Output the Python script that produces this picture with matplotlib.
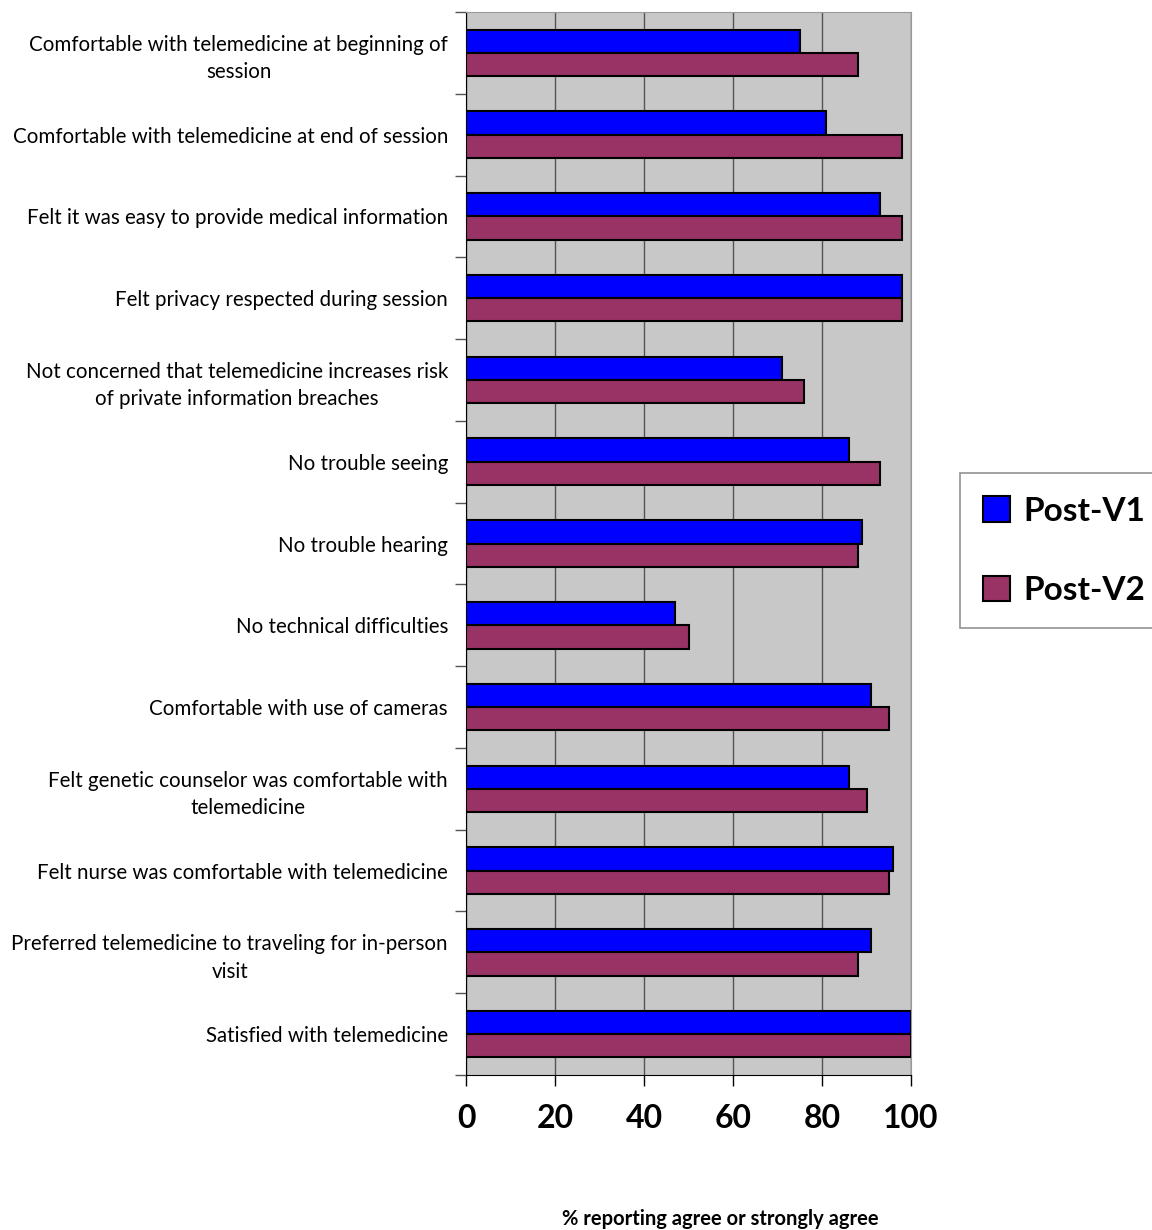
import numpy as np
from matplotlib import pyplot as plt

categories = [
    "Comfortable with telemedicine at beginning of\nsession",
    "Comfortable with telemedicine at end of session",
    "Felt it was easy to provide medical information",
    "Felt privacy respected during session",
    "Not concerned that telemedicine increases risk\nof private information breaches",
    "No trouble seeing",
    "No trouble hearing",
    "No technical difficulties",
    "Comfortable with use of cameras",
    "Felt genetic counselor was comfortable with\ntelemedicine",
    "Felt nurse was comfortable with telemedicine",
    "Preferred telemedicine to traveling for in-person\nvisit",
    "Satisfied with telemedicine",
]
post_v1 = [75, 81, 93, 98, 71, 86, 89, 47, 91, 86, 96, 91, 100]
post_v2 = [88, 98, 98, 98, 76, 93, 88, 50, 95, 90, 95, 88, 100]
xticks = [0, 20, 40, 60, 80, 100]

plt.rcParams['font.family'] = ['Lato', 'DejaVu Sans']

fig = plt.figure(figsize=(11.52, 12.30), dpi=100)
ax = fig.add_axes([466 / 1152, 1 - 1075 / 1230, 445 / 1152, 1063 / 1230])
ax.set_facecolor('#c8c8c8')

n = len(categories)
y = np.arange(n)
h = 0.285
ax.barh(y - h / 2, post_v1, height=h, color='#0000ff', edgecolor='black',
        linewidth=1.5, label='Post-V1', zorder=3)
ax.barh(y + h / 2, post_v2, height=h, color='#993366', edgecolor='black',
        linewidth=1.5, label='Post-V2', zorder=3)

ax.set_ylim(n - 0.5, -0.5)
ax.set_xlim(0, 100)
ax.set_yticks(y)
ax.set_yticklabels(categories, fontsize=14.8)
for lab in ax.get_yticklabels():
    lab.set_multialignment('center')
    lab.set_linespacing(1.45)
ax.set_yticks(np.arange(n + 1) - 0.5, minor=True)
ax.tick_params(axis='y', which='major', length=0, pad=13)
ax.tick_params(axis='y', which='minor', length=8, width=1, color='#555555')

ax.set_xticks(xticks)
ax.set_xticklabels([str(t) for t in xticks], fontsize=23, fontweight='bold')
ax.tick_params(axis='x', length=8, width=1, pad=13)
ax.grid(axis='x', color='#555555', linewidth=1, zorder=0)

ax.spines['left'].set_color('black')
ax.spines['bottom'].set_color('black')
ax.spines['top'].set_color('#999999')
ax.spines['right'].set_color('#999999')

fig.text(720 / 1152, 1 - 1219 / 1230, '% reporting agree or strongly agree',
         fontsize=14.5, fontweight='bold', ha='center', va='center')

leg = fig.legend(loc='upper left', bbox_to_anchor=(960 / 1152, 1 - 473 / 1230),
                 borderaxespad=0, prop={'size': 24, 'weight': 'bold'},
                 frameon=True, fancybox=False, edgecolor='#777777',
                 handlelength=0.8, handleheight=0.8, handletextpad=0.4,
                 labelspacing=1.5, borderpad=0.7)
leg.get_frame().set_linewidth(1.2)

plt.savefig("out.png", dpi=100)
